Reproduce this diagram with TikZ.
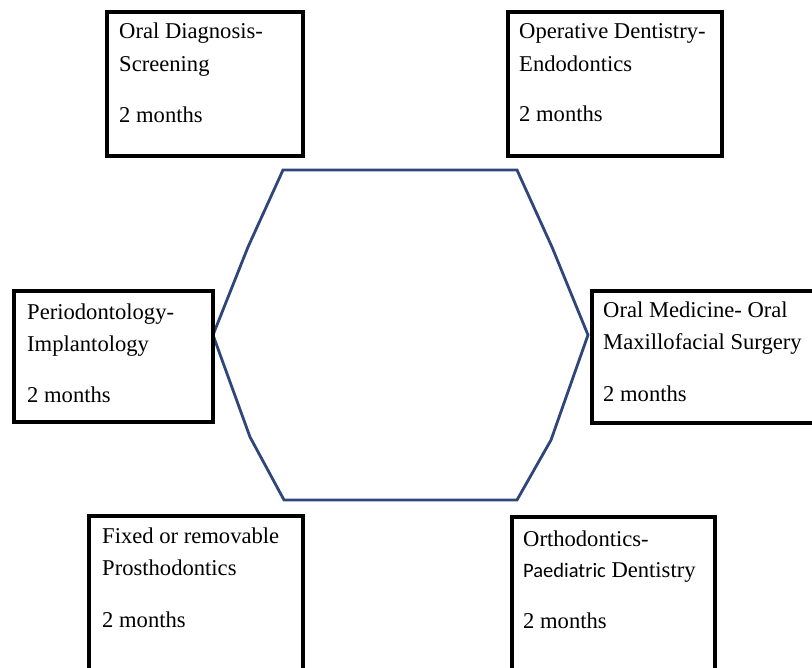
\documentclass[tikz,border=0pt]{standalone}
\usepackage{fontspec}
\setmainfont{Liberation Serif}
\newfontfamily\calfont{Carlito}
\definecolor{hexblue}{HTML}{2F4679}
\begin{document}
\begin{tikzpicture}[x=1pt,y=-1pt,
  box/.style={draw=black,line width=4pt,line join=miter,inner sep=0pt},
  txt/.style={anchor=base west,inner sep=0pt,font=\fontsize{22.6}{26}\selectfont},
  hexline/.style={draw=hexblue,line width=2.8pt,line join=miter}]
\useasboundingbox (0,0) rectangle (812,668);
\clip (0,0) rectangle (812,668);
\fill[white] (0,0) rectangle (812,668);
% hexagon
\coordinate (h1) at (283,170);
\coordinate (h2) at (517,170);
\coordinate (h2a) at (552,247);
\coordinate (h3) at (588,335);
\coordinate (h3a) at (551,440);
\coordinate (h4) at (517,500);
\coordinate (h5) at (284,500);
\coordinate (h5a) at (250,437);
\coordinate (h6) at (213,335);
\coordinate (h6a) at (248,247);
\draw[hexline] (h1) -- (h2) -- (h2a) -- (h3) -- (h3a) -- (h4) -- (h5) -- (h5a) -- (h6) -- (h6a) -- cycle;
% boxes
\node[box,minimum width=196pt,minimum height=144pt,anchor=north west] (b1) at (105,10) {};
\node[box,minimum width=214pt,minimum height=144pt,anchor=north west] (b2) at (506,10) {};
\node[box,minimum width=199pt,minimum height=131pt,anchor=north west] (b3) at (12,289) {};
\node[box,minimum width=240pt,minimum height=132pt,anchor=north west] (b4) at (590,289) {};
\node[box,minimum width=214pt,minimum height=186pt,anchor=north west] (b5) at (87,514) {};
\node[box,minimum width=203pt,minimum height=186pt,anchor=north west] (b6) at (510,515) {};
% texts
\node[txt] (t1a) at (119,39) {Oral Diagnosis-};
\node[txt] (t1b) at (119,72) {Screening};
\node[txt] (t1c) at (119,123) {2 months};
\node[txt] (t2a) at (519,39) {Operative Dentistry-};
\node[txt] (t2b) at (519,72) {Endodontics};
\node[txt] (t2c) at (519,122) {2 months};
\node[txt] (t3a) at (27,320) {Periodontology-};
\node[txt] (t3b) at (27,352) {Implantology};
\node[txt] (t3c) at (27,403) {2 months};
\node[txt] (t4a) at (603,318) {Oral Medicine- Oral};
\node[txt] (t4b) at (603,350) {Maxillofacial Surgery};
\node[txt] (t4c) at (603,402) {2 months};
\node[txt] (t5a) at (102,543) {Fixed or removable};
\node[txt] (t5b) at (102,575) {Prosthodontics};
\node[txt] (t5c) at (102,627) {2 months};
\node[txt] (t6a) at (523,546) {Orthodontics-};
\node[txt] (t6b) at (523,577) {{\calfont\fontsize{20.5}{26}\selectfont Paediatric} Dentistry};
\node[txt] (t6c) at (523,628) {2 months};
\end{tikzpicture}
\end{document}
